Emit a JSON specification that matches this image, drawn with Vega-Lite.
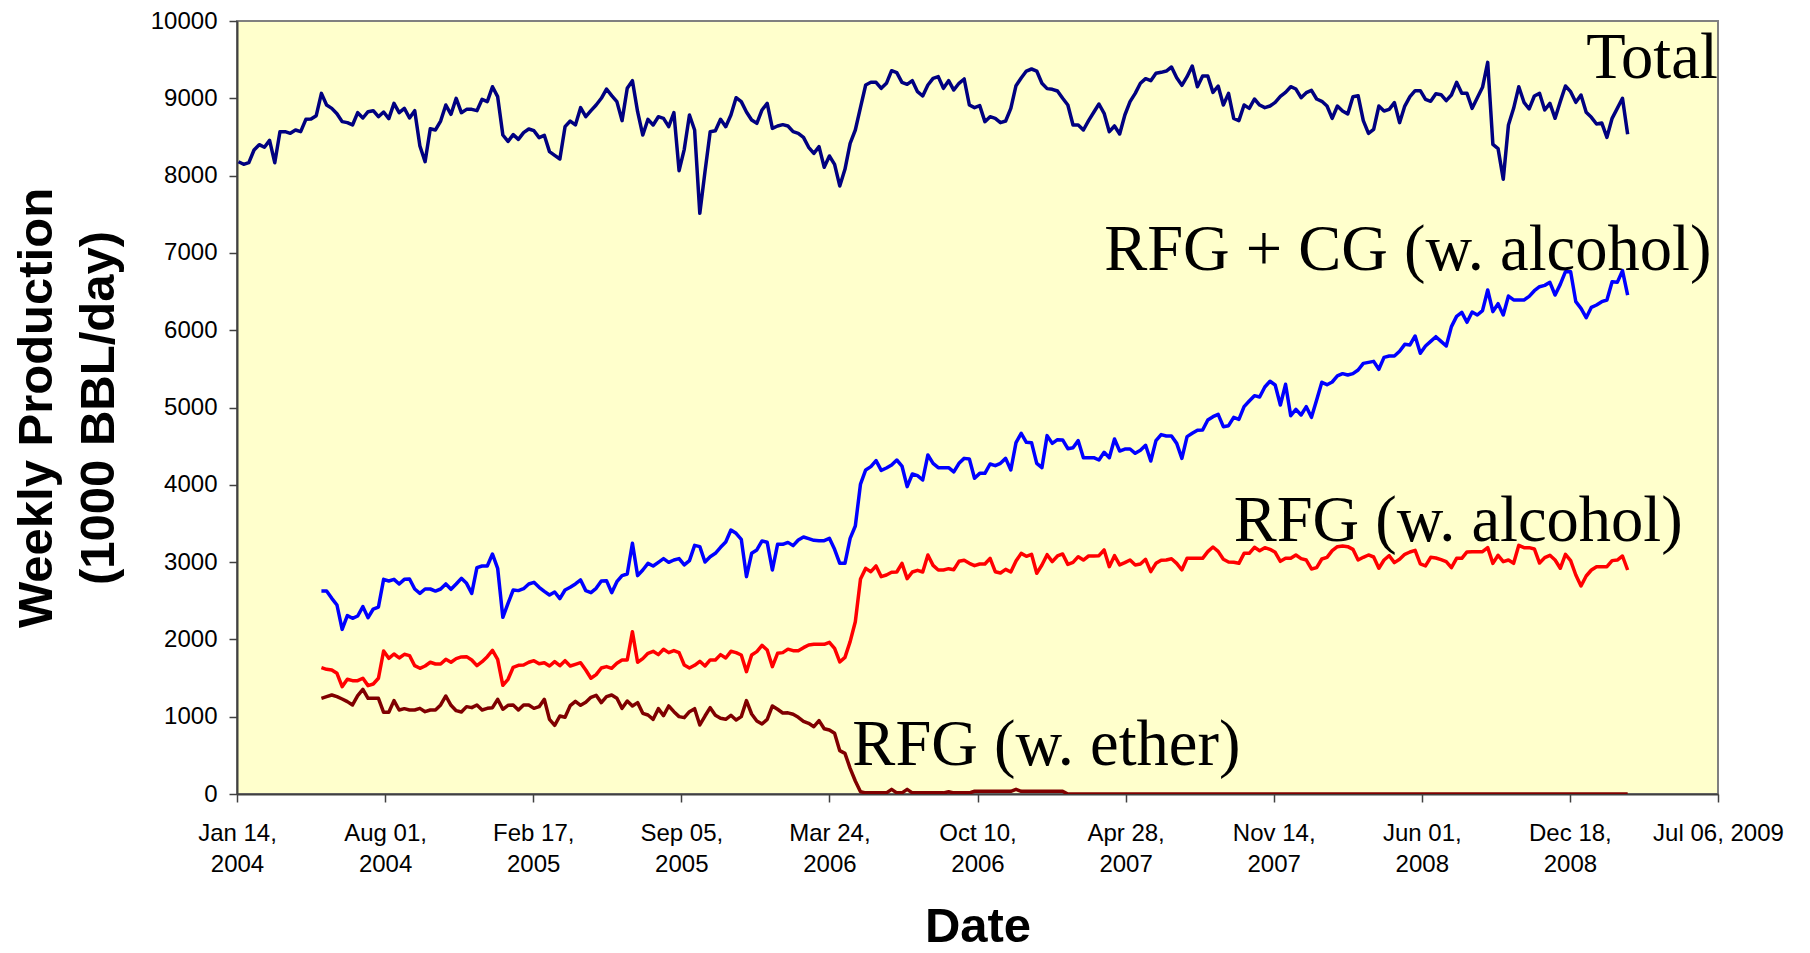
{
  "$schema": "https://vega.github.io/schema/vega-lite/v6.json",
  "autosize": {"type": "none"},
  "padding": {"left": 237, "top": 21, "right": 92, "bottom": 159},
  "width": 1481,
  "height": 773,
  "background": "#ffffff",
  "config": {
    "view": {"fill": "#FFFFCC", "stroke": "#808080", "strokeWidth": 2},
    "axis": {
      "grid": false,
      "domainColor": "#404040",
      "domainWidth": 2,
      "tickColor": "#404040",
      "tickWidth": 1.5,
      "tickSize": 8,
      "labelFont": "Liberation Sans",
      "labelFontSize": 24,
      "labelColor": "#000000",
      "titleFont": "Liberation Sans",
      "titleFontWeight": "bold",
      "titleFontSize": 49,
      "titleColor": "#000000"
    }
  },
  "datasets": {
    "weekly": [
      {"d":"2004-01-16","total":8180},
      {"d":"2004-01-23","total":8146},
      {"d":"2004-01-30","total":8167},
      {"d":"2004-02-06","total":8331},
      {"d":"2004-02-13","total":8400},
      {"d":"2004-02-20","total":8366},
      {"d":"2004-02-27","total":8456},
      {"d":"2004-03-05","total":8167},
      {"d":"2004-03-12","total":8568},
      {"d":"2004-03-19","total":8568},
      {"d":"2004-03-26","total":8547},
      {"d":"2004-04-02","total":8590},
      {"d":"2004-04-09","total":8568},
      {"d":"2004-04-16","total":8728},
      {"d":"2004-04-23","total":8732},
      {"d":"2004-04-30","total":8775},
      {"d":"2004-05-07","total":9064,"rfgcg":2626,"rfgalc":1635,"rfgeth":1238},
      {"d":"2004-05-14","total":8913,"rfgcg":2626,"rfgalc":1613,"rfgeth":1259},
      {"d":"2004-05-21","total":8870,"rfgcg":2531,"rfgalc":1604,"rfgeth":1281},
      {"d":"2004-05-28","total":8801,"rfgcg":2445,"rfgalc":1561,"rfgeth":1259},
      {"d":"2004-06-04","total":8698,"rfgcg":2130,"rfgalc":1389,"rfgeth":1229},
      {"d":"2004-06-11","total":8685,"rfgcg":2307,"rfgalc":1484,"rfgeth":1195},
      {"d":"2004-06-18","total":8655,"rfgcg":2273,"rfgalc":1466,"rfgeth":1152},
      {"d":"2004-06-25","total":8814,"rfgcg":2303,"rfgalc":1466,"rfgeth":1272},
      {"d":"2004-07-02","total":8745,"rfgcg":2424,"rfgalc":1497,"rfgeth":1354},
      {"d":"2004-07-09","total":8827,"rfgcg":2281,"rfgalc":1402,"rfgeth":1238},
      {"d":"2004-07-16","total":8840,"rfgcg":2393,"rfgalc":1423,"rfgeth":1238},
      {"d":"2004-07-23","total":8762,"rfgcg":2419,"rfgalc":1497,"rfgeth":1238},
      {"d":"2004-07-30","total":8823,"rfgcg":2777,"rfgalc":1850,"rfgeth":1057},
      {"d":"2004-08-06","total":8737,"rfgcg":2756,"rfgalc":1755,"rfgeth":1057},
      {"d":"2004-08-13","total":8935,"rfgcg":2777,"rfgalc":1811,"rfgeth":1208},
      {"d":"2004-08-20","total":8814,"rfgcg":2717,"rfgalc":1760,"rfgeth":1087},
      {"d":"2004-08-27","total":8870,"rfgcg":2777,"rfgalc":1807,"rfgeth":1104},
      {"d":"2004-09-03","total":8745,"rfgcg":2782,"rfgalc":1790,"rfgeth":1087},
      {"d":"2004-09-10","total":8840,"rfgcg":2652,"rfgalc":1660,"rfgeth":1087},
      {"d":"2004-09-17","total":8383,"rfgcg":2596,"rfgalc":1626,"rfgeth":1108},
      {"d":"2004-09-24","total":8180,"rfgcg":2652,"rfgalc":1656,"rfgeth":1065},
      {"d":"2004-10-01","total":8607,"rfgcg":2652,"rfgalc":1704,"rfgeth":1087},
      {"d":"2004-10-08","total":8590,"rfgcg":2626,"rfgalc":1682,"rfgeth":1087},
      {"d":"2004-10-15","total":8706,"rfgcg":2652,"rfgalc":1682,"rfgeth":1152},
      {"d":"2004-10-22","total":8913,"rfgcg":2717,"rfgalc":1742,"rfgeth":1268},
      {"d":"2004-10-29","total":8793,"rfgcg":2648,"rfgalc":1704,"rfgeth":1147},
      {"d":"2004-11-05","total":9000,"rfgcg":2717,"rfgalc":1751,"rfgeth":1078},
      {"d":"2004-11-12","total":8814,"rfgcg":2790,"rfgalc":1773,"rfgeth":1061},
      {"d":"2004-11-19","total":8857,"rfgcg":2725,"rfgalc":1777,"rfgeth":1130},
      {"d":"2004-11-26","total":8857,"rfgcg":2596,"rfgalc":1734,"rfgeth":1117},
      {"d":"2004-12-03","total":8840,"rfgcg":2928,"rfgalc":1660,"rfgeth":1152},
      {"d":"2004-12-10","total":8987,"rfgcg":2950,"rfgalc":1712,"rfgeth":1087},
      {"d":"2004-12-17","total":8957,"rfgcg":2950,"rfgalc":1777,"rfgeth":1108},
      {"d":"2004-12-24","total":9150,"rfgcg":3105,"rfgalc":1859,"rfgeth":1117},
      {"d":"2004-12-31","total":9021,"rfgcg":2920,"rfgalc":1742,"rfgeth":1225},
      {"d":"2005-01-07","total":8525,"rfgcg":2286,"rfgalc":1406,"rfgeth":1096},
      {"d":"2005-01-14","total":8443,"rfgcg":2467,"rfgalc":1484,"rfgeth":1147},
      {"d":"2005-01-21","total":8530,"rfgcg":2639,"rfgalc":1639,"rfgeth":1152},
      {"d":"2005-01-28","total":8469,"rfgcg":2631,"rfgalc":1665,"rfgeth":1087},
      {"d":"2005-02-04","total":8556,"rfgcg":2656,"rfgalc":1669,"rfgeth":1152},
      {"d":"2005-02-11","total":8603,"rfgcg":2717,"rfgalc":1704,"rfgeth":1152},
      {"d":"2005-02-18","total":8581,"rfgcg":2738,"rfgalc":1725,"rfgeth":1108},
      {"d":"2005-02-25","total":8491,"rfgcg":2674,"rfgalc":1686,"rfgeth":1130},
      {"d":"2005-03-04","total":8521,"rfgcg":2622,"rfgalc":1699,"rfgeth":1225},
      {"d":"2005-03-11","total":8310,"rfgcg":2575,"rfgalc":1656,"rfgeth":966},
      {"d":"2005-03-18","total":8262,"rfgcg":2613,"rfgalc":1712,"rfgeth":889},
      {"d":"2005-03-25","total":8215,"rfgcg":2527,"rfgalc":1660,"rfgeth":1009},
      {"d":"2005-04-01","total":8633,"rfgcg":2639,"rfgalc":1725,"rfgeth":992},
      {"d":"2005-04-08","total":8706,"rfgcg":2674,"rfgalc":1656,"rfgeth":1143},
      {"d":"2005-04-15","total":8655,"rfgcg":2717,"rfgalc":1678,"rfgeth":1199},
      {"d":"2005-04-22","total":8879,"rfgcg":2769,"rfgalc":1699,"rfgeth":1147},
      {"d":"2005-04-29","total":8762,"rfgcg":2631,"rfgalc":1604,"rfgeth":1186},
      {"d":"2005-05-06","total":8840,"rfgcg":2605,"rfgalc":1497,"rfgeth":1251},
      {"d":"2005-05-13","total":8913,"rfgcg":2661,"rfgalc":1544,"rfgeth":1277},
      {"d":"2005-05-20","total":9000,"rfgcg":2756,"rfgalc":1630,"rfgeth":1182},
      {"d":"2005-05-27","total":9120,"rfgcg":2760,"rfgalc":1648,"rfgeth":1259},
      {"d":"2005-06-03","total":9034,"rfgcg":2605,"rfgalc":1626,"rfgeth":1281},
      {"d":"2005-06-10","total":8957,"rfgcg":2747,"rfgalc":1691,"rfgeth":1238},
      {"d":"2005-06-17","total":8711,"rfgcg":2825,"rfgalc":1734,"rfgeth":1108},
      {"d":"2005-06-24","total":9129,"rfgcg":2846,"rfgalc":1734,"rfgeth":1203},
      {"d":"2005-07-01","total":9228,"rfgcg":3243,"rfgalc":2100,"rfgeth":1139},
      {"d":"2005-07-08","total":8827,"rfgcg":2825,"rfgalc":1704,"rfgeth":1182},
      {"d":"2005-07-15","total":8525,"rfgcg":2898,"rfgalc":1751,"rfgeth":1044},
      {"d":"2005-07-22","total":8728,"rfgcg":2984,"rfgalc":1820,"rfgeth":1022},
      {"d":"2005-07-29","total":8655,"rfgcg":2950,"rfgalc":1846,"rfgeth":966},
      {"d":"2005-08-05","total":8762,"rfgcg":2997,"rfgalc":1803,"rfgeth":1104},
      {"d":"2005-08-12","total":8741,"rfgcg":3045,"rfgalc":1872,"rfgeth":1014},
      {"d":"2005-08-19","total":8633,"rfgcg":2997,"rfgalc":1829,"rfgeth":1139},
      {"d":"2005-08-26","total":8814,"rfgcg":3027,"rfgalc":1855,"rfgeth":1065},
      {"d":"2005-09-02","total":8064,"rfgcg":3045,"rfgalc":1829,"rfgeth":1001},
      {"d":"2005-09-09","total":8340,"rfgcg":2963,"rfgalc":1669,"rfgeth":988},
      {"d":"2005-09-16","total":8784,"rfgcg":3019,"rfgalc":1630,"rfgeth":1065},
      {"d":"2005-09-23","total":8590,"rfgcg":3217,"rfgalc":1665,"rfgeth":1104},
      {"d":"2005-09-30","total":7512,"rfgcg":3200,"rfgalc":1717,"rfgeth":893},
      {"d":"2005-10-07","total":8051,"rfgcg":3001,"rfgalc":1656,"rfgeth":1009},
      {"d":"2005-10-14","total":8568,"rfgcg":3070,"rfgalc":1734,"rfgeth":1117},
      {"d":"2005-10-21","total":8581,"rfgcg":3114,"rfgalc":1734,"rfgeth":1018},
      {"d":"2005-10-28","total":8728,"rfgcg":3191,"rfgalc":1803,"rfgeth":979},
      {"d":"2005-11-04","total":8633,"rfgcg":3260,"rfgalc":1760,"rfgeth":966},
      {"d":"2005-11-11","total":8784,"rfgcg":3415,"rfgalc":1846,"rfgeth":1018},
      {"d":"2005-11-18","total":9008,"rfgcg":3372,"rfgalc":1829,"rfgeth":957},
      {"d":"2005-11-25","total":8957,"rfgcg":3295,"rfgalc":1798,"rfgeth":1001},
      {"d":"2005-12-02","total":8823,"rfgcg":2812,"rfgalc":1583,"rfgeth":1208},
      {"d":"2005-12-09","total":8719,"rfgcg":3114,"rfgalc":1798,"rfgeth":1035},
      {"d":"2005-12-16","total":8676,"rfgcg":3157,"rfgalc":1842,"rfgeth":945},
      {"d":"2005-12-23","total":8849,"rfgcg":3273,"rfgalc":1923,"rfgeth":906},
      {"d":"2005-12-30","total":8935,"rfgcg":3256,"rfgalc":1863,"rfgeth":966},
      {"d":"2006-01-06","total":8611,"rfgcg":2898,"rfgalc":1648,"rfgeth":1139},
      {"d":"2006-01-13","total":8642,"rfgcg":3230,"rfgalc":1820,"rfgeth":1096},
      {"d":"2006-01-20","total":8659,"rfgcg":3230,"rfgalc":1829,"rfgeth":1048},
      {"d":"2006-01-27","total":8642,"rfgcg":3255,"rfgalc":1874,"rfgeth":1050},
      {"d":"2006-02-03","total":8568,"rfgcg":3213,"rfgalc":1854,"rfgeth":1031},
      {"d":"2006-02-10","total":8547,"rfgcg":3286,"rfgalc":1854,"rfgeth":992},
      {"d":"2006-02-17","total":8495,"rfgcg":3325,"rfgalc":1893,"rfgeth":940},
      {"d":"2006-02-24","total":8366,"rfgcg":3303,"rfgalc":1928,"rfgeth":914},
      {"d":"2006-03-03","total":8288,"rfgcg":3282,"rfgalc":1936,"rfgeth":871},
      {"d":"2006-03-10","total":8374,"rfgcg":3277,"rfgalc":1936,"rfgeth":949},
      {"d":"2006-03-17","total":8107,"rfgcg":3277,"rfgalc":1936,"rfgeth":845},
      {"d":"2006-03-24","total":8254,"rfgcg":3307,"rfgalc":1962,"rfgeth":828},
      {"d":"2006-03-31","total":8146,"rfgcg":3165,"rfgalc":1885,"rfgeth":785},
      {"d":"2006-04-07","total":7866,"rfgcg":2984,"rfgalc":1708,"rfgeth":561},
      {"d":"2006-04-14","total":8081,"rfgcg":2984,"rfgalc":1768,"rfgeth":526},
      {"d":"2006-04-21","total":8418,"rfgcg":3307,"rfgalc":1971,"rfgeth":332},
      {"d":"2006-04-28","total":8590,"rfgcg":3467,"rfgalc":2229,"rfgeth":168},
      {"d":"2006-05-05","total":8883,"rfgcg":4010,"rfgalc":2781,"rfgeth":30},
      {"d":"2006-05-12","total":9172,"rfgcg":4192,"rfgalc":2919,"rfgeth":15},
      {"d":"2006-05-19","total":9207,"rfgcg":4235,"rfgalc":2876,"rfgeth":15},
      {"d":"2006-05-26","total":9207,"rfgcg":4312,"rfgalc":2950,"rfgeth":15},
      {"d":"2006-06-02","total":9129,"rfgcg":4187,"rfgalc":2812,"rfgeth":15},
      {"d":"2006-06-09","total":9194,"rfgcg":4217,"rfgalc":2833,"rfgeth":15},
      {"d":"2006-06-16","total":9357,"rfgcg":4256,"rfgalc":2868,"rfgeth":60},
      {"d":"2006-06-23","total":9332,"rfgcg":4321,"rfgalc":2872,"rfgeth":15},
      {"d":"2006-06-30","total":9207,"rfgcg":4243,"rfgalc":2984,"rfgeth":15},
      {"d":"2006-07-07","total":9181,"rfgcg":3976,"rfgalc":2786,"rfgeth":60},
      {"d":"2006-07-14","total":9228,"rfgcg":4140,"rfgalc":2872,"rfgeth":15},
      {"d":"2006-07-21","total":9086,"rfgcg":4118,"rfgalc":2894,"rfgeth":15},
      {"d":"2006-07-28","total":9030,"rfgcg":4062,"rfgalc":2872,"rfgeth":15},
      {"d":"2006-08-04","total":9172,"rfgcg":4386,"rfgalc":3092,"rfgeth":15},
      {"d":"2006-08-11","total":9258,"rfgcg":4278,"rfgalc":2958,"rfgeth":15},
      {"d":"2006-08-18","total":9280,"rfgcg":4222,"rfgalc":2898,"rfgeth":15},
      {"d":"2006-08-25","total":9129,"rfgcg":4222,"rfgalc":2898,"rfgeth":15},
      {"d":"2006-09-01","total":9228,"rfgcg":4222,"rfgalc":2915,"rfgeth":30},
      {"d":"2006-09-08","total":9107,"rfgcg":4166,"rfgalc":2902,"rfgeth":15},
      {"d":"2006-09-15","total":9194,"rfgcg":4278,"rfgalc":3010,"rfgeth":15},
      {"d":"2006-09-22","total":9250,"rfgcg":4342,"rfgalc":3023,"rfgeth":15},
      {"d":"2006-09-29","total":8913,"rfgcg":4334,"rfgalc":2984,"rfgeth":15},
      {"d":"2006-10-06","total":8879,"rfgcg":4084,"rfgalc":2954,"rfgeth":35},
      {"d":"2006-10-13","total":8905,"rfgcg":4148,"rfgalc":2975,"rfgeth":35},
      {"d":"2006-10-20","total":8698,"rfgcg":4148,"rfgalc":2975,"rfgeth":35},
      {"d":"2006-10-27","total":8762,"rfgcg":4269,"rfgalc":3049,"rfgeth":35},
      {"d":"2006-11-03","total":8741,"rfgcg":4248,"rfgalc":2876,"rfgeth":35},
      {"d":"2006-11-10","total":8685,"rfgcg":4278,"rfgalc":2859,"rfgeth":35},
      {"d":"2006-11-17","total":8706,"rfgcg":4342,"rfgalc":2906,"rfgeth":35},
      {"d":"2006-11-24","total":8870,"rfgcg":4192,"rfgalc":2872,"rfgeth":35},
      {"d":"2006-12-01","total":9163,"rfgcg":4545,"rfgalc":3014,"rfgeth":60},
      {"d":"2006-12-08","total":9263,"rfgcg":4666,"rfgalc":3113,"rfgeth":35},
      {"d":"2006-12-15","total":9353,"rfgcg":4549,"rfgalc":3075,"rfgeth":35},
      {"d":"2006-12-22","total":9379,"rfgcg":4545,"rfgalc":3101,"rfgeth":35},
      {"d":"2006-12-29","total":9353,"rfgcg":4278,"rfgalc":2855,"rfgeth":35},
      {"d":"2007-01-05","total":9194,"rfgcg":4222,"rfgalc":2963,"rfgeth":35},
      {"d":"2007-01-12","total":9125,"rfgcg":4636,"rfgalc":3096,"rfgeth":35},
      {"d":"2007-01-19","total":9116,"rfgcg":4536,"rfgalc":3006,"rfgeth":35},
      {"d":"2007-01-26","total":9094,"rfgcg":4584,"rfgalc":3079,"rfgeth":35},
      {"d":"2007-02-02","total":9000,"rfgcg":4580,"rfgalc":3105,"rfgeth":35},
      {"d":"2007-02-09","total":8913,"rfgcg":4467,"rfgalc":2971,"rfgeth":0},
      {"d":"2007-02-16","total":8655,"rfgcg":4480,"rfgalc":2997,"rfgeth":0},
      {"d":"2007-02-23","total":8655,"rfgcg":4571,"rfgalc":3070,"rfgeth":0},
      {"d":"2007-03-02","total":8590,"rfgcg":4351,"rfgalc":3027,"rfgeth":0},
      {"d":"2007-03-09","total":8711,"rfgcg":4351,"rfgalc":3079,"rfgeth":0},
      {"d":"2007-03-16","total":8819,"rfgcg":4351,"rfgalc":3079,"rfgeth":0},
      {"d":"2007-03-23","total":8926,"rfgcg":4321,"rfgalc":3083,"rfgeth":0},
      {"d":"2007-03-30","total":8806,"rfgcg":4420,"rfgalc":3157,"rfgeth":0},
      {"d":"2007-04-06","total":8568,"rfgcg":4351,"rfgalc":2941,"rfgeth":0},
      {"d":"2007-04-13","total":8642,"rfgcg":4592,"rfgalc":3083,"rfgeth":0},
      {"d":"2007-04-20","total":8538,"rfgcg":4437,"rfgalc":2963,"rfgeth":0},
      {"d":"2007-04-27","total":8784,"rfgcg":4463,"rfgalc":2993,"rfgeth":0},
      {"d":"2007-05-04","total":8957,"rfgcg":4463,"rfgalc":3027,"rfgeth":0},
      {"d":"2007-05-11","total":9064,"rfgcg":4407,"rfgalc":2963,"rfgeth":0},
      {"d":"2007-05-18","total":9194,"rfgcg":4446,"rfgalc":2975,"rfgeth":0},
      {"d":"2007-05-25","total":9254,"rfgcg":4511,"rfgalc":3036,"rfgeth":0},
      {"d":"2007-06-01","total":9228,"rfgcg":4308,"rfgalc":2876,"rfgeth":0},
      {"d":"2007-06-08","total":9323,"rfgcg":4571,"rfgalc":2984,"rfgeth":0},
      {"d":"2007-06-15","total":9336,"rfgcg":4649,"rfgalc":3023,"rfgeth":0},
      {"d":"2007-06-22","total":9353,"rfgcg":4631,"rfgalc":3027,"rfgeth":0},
      {"d":"2007-06-29","total":9405,"rfgcg":4631,"rfgalc":3044,"rfgeth":0},
      {"d":"2007-07-06","total":9265,"rfgcg":4536,"rfgalc":2984,"rfgeth":0},
      {"d":"2007-07-13","total":9168,"rfgcg":4342,"rfgalc":2898,"rfgeth":0},
      {"d":"2007-07-20","total":9280,"rfgcg":4623,"rfgalc":3049,"rfgeth":0},
      {"d":"2007-07-27","total":9418,"rfgcg":4666,"rfgalc":3049,"rfgeth":0},
      {"d":"2007-08-03","total":9150,"rfgcg":4705,"rfgalc":3049,"rfgeth":0},
      {"d":"2007-08-10","total":9288,"rfgcg":4709,"rfgalc":3049,"rfgeth":0},
      {"d":"2007-08-17","total":9288,"rfgcg":4838,"rfgalc":3135,"rfgeth":0},
      {"d":"2007-08-24","total":9077,"rfgcg":4881,"rfgalc":3195,"rfgeth":0},
      {"d":"2007-08-31","total":9159,"rfgcg":4912,"rfgalc":3139,"rfgeth":0},
      {"d":"2007-09-07","total":8913,"rfgcg":4752,"rfgalc":3036,"rfgeth":0},
      {"d":"2007-09-14","total":9064,"rfgcg":4765,"rfgalc":3001,"rfgeth":0},
      {"d":"2007-09-21","total":8741,"rfgcg":4873,"rfgalc":2997,"rfgeth":0},
      {"d":"2007-09-28","total":8711,"rfgcg":4847,"rfgalc":2984,"rfgeth":0},
      {"d":"2007-10-05","total":8913,"rfgcg":5011,"rfgalc":3113,"rfgeth":0},
      {"d":"2007-10-12","total":8870,"rfgcg":5084,"rfgalc":3113,"rfgeth":0},
      {"d":"2007-10-19","total":8991,"rfgcg":5153,"rfgalc":3191,"rfgeth":0},
      {"d":"2007-10-26","total":8913,"rfgcg":5136,"rfgalc":3148,"rfgeth":0},
      {"d":"2007-11-02","total":8879,"rfgcg":5265,"rfgalc":3187,"rfgeth":0},
      {"d":"2007-11-09","total":8900,"rfgcg":5339,"rfgalc":3165,"rfgeth":0},
      {"d":"2007-11-16","total":8948,"rfgcg":5291,"rfgalc":3127,"rfgeth":0},
      {"d":"2007-11-23","total":9025,"rfgcg":5032,"rfgalc":3010,"rfgeth":0},
      {"d":"2007-11-30","total":9077,"rfgcg":5300,"rfgalc":3049,"rfgeth":0},
      {"d":"2007-12-07","total":9150,"rfgcg":4894,"rfgalc":3049,"rfgeth":0},
      {"d":"2007-12-14","total":9120,"rfgcg":4976,"rfgalc":3092,"rfgeth":0},
      {"d":"2007-12-21","total":9008,"rfgcg":4903,"rfgalc":3045,"rfgeth":0},
      {"d":"2007-12-28","total":9073,"rfgcg":5011,"rfgalc":3027,"rfgeth":0},
      {"d":"2008-01-04","total":9103,"rfgcg":4873,"rfgalc":2911,"rfgeth":0},
      {"d":"2008-01-11","total":8991,"rfgcg":5097,"rfgalc":2928,"rfgeth":0},
      {"d":"2008-01-18","total":8961,"rfgcg":5326,"rfgalc":3040,"rfgeth":0},
      {"d":"2008-01-25","total":8900,"rfgcg":5295,"rfgalc":3062,"rfgeth":0},
      {"d":"2008-02-01","total":8741,"rfgcg":5330,"rfgalc":3148,"rfgeth":0},
      {"d":"2008-02-08","total":8900,"rfgcg":5408,"rfgalc":3200,"rfgeth":0},
      {"d":"2008-02-15","total":8836,"rfgcg":5438,"rfgalc":3208,"rfgeth":0},
      {"d":"2008-02-22","total":8797,"rfgcg":5420,"rfgalc":3200,"rfgeth":0},
      {"d":"2008-02-29","total":9021,"rfgcg":5438,"rfgalc":3165,"rfgeth":0},
      {"d":"2008-03-07","total":9034,"rfgcg":5485,"rfgalc":3027,"rfgeth":0},
      {"d":"2008-03-14","total":8711,"rfgcg":5571,"rfgalc":3062,"rfgeth":0},
      {"d":"2008-03-21","total":8547,"rfgcg":5584,"rfgalc":3092,"rfgeth":0},
      {"d":"2008-03-28","total":8599,"rfgcg":5597,"rfgalc":3066,"rfgeth":0},
      {"d":"2008-04-04","total":8900,"rfgcg":5494,"rfgalc":2920,"rfgeth":0},
      {"d":"2008-04-11","total":8836,"rfgcg":5649,"rfgalc":3027,"rfgeth":0},
      {"d":"2008-04-18","total":8857,"rfgcg":5666,"rfgalc":3083,"rfgeth":0},
      {"d":"2008-04-25","total":8944,"rfgcg":5666,"rfgalc":2993,"rfgeth":0},
      {"d":"2008-05-02","total":8685,"rfgcg":5727,"rfgalc":3036,"rfgeth":0},
      {"d":"2008-05-09","total":8900,"rfgcg":5817,"rfgalc":3101,"rfgeth":0},
      {"d":"2008-05-16","total":9021,"rfgcg":5809,"rfgalc":3131,"rfgeth":0},
      {"d":"2008-05-23","total":9099,"rfgcg":5925,"rfgalc":3152,"rfgeth":0},
      {"d":"2008-05-30","total":9099,"rfgcg":5701,"rfgalc":2976,"rfgeth":0},
      {"d":"2008-06-06","total":8987,"rfgcg":5796,"rfgalc":2950,"rfgeth":0},
      {"d":"2008-06-13","total":8961,"rfgcg":5856,"rfgalc":3062,"rfgeth":0},
      {"d":"2008-06-20","total":9060,"rfgcg":5916,"rfgalc":3053,"rfgeth":0},
      {"d":"2008-06-27","total":9047,"rfgcg":5856,"rfgalc":3032,"rfgeth":0},
      {"d":"2008-07-04","total":8969,"rfgcg":5796,"rfgalc":3006,"rfgeth":0},
      {"d":"2008-07-11","total":9043,"rfgcg":6046,"rfgalc":2928,"rfgeth":0},
      {"d":"2008-07-18","total":9207,"rfgcg":6179,"rfgalc":3049,"rfgeth":0},
      {"d":"2008-07-25","total":9064,"rfgcg":6231,"rfgalc":3049,"rfgeth":0},
      {"d":"2008-08-01","total":9064,"rfgcg":6102,"rfgalc":3131,"rfgeth":0},
      {"d":"2008-08-08","total":8870,"rfgcg":6235,"rfgalc":3135,"rfgeth":0},
      {"d":"2008-08-15","total":9008,"rfgcg":6197,"rfgalc":3135,"rfgeth":0},
      {"d":"2008-08-22","total":9142,"rfgcg":6253,"rfgalc":3135,"rfgeth":0},
      {"d":"2008-08-29","total":9465,"rfgcg":6520,"rfgalc":3187,"rfgeth":0},
      {"d":"2008-09-05","total":8404,"rfgcg":6240,"rfgalc":2984,"rfgeth":0},
      {"d":"2008-09-12","total":8349,"rfgcg":6343,"rfgalc":3088,"rfgeth":0},
      {"d":"2008-09-19","total":7952,"rfgcg":6197,"rfgalc":3006,"rfgeth":0},
      {"d":"2008-09-26","total":8655,"rfgcg":6442,"rfgalc":3027,"rfgeth":0},
      {"d":"2008-10-03","total":8870,"rfgcg":6391,"rfgalc":2984,"rfgeth":0},
      {"d":"2008-10-10","total":9150,"rfgcg":6391,"rfgalc":3217,"rfgeth":0},
      {"d":"2008-10-17","total":8948,"rfgcg":6391,"rfgalc":3187,"rfgeth":0},
      {"d":"2008-10-24","total":8862,"rfgcg":6438,"rfgalc":3187,"rfgeth":0},
      {"d":"2008-10-31","total":9030,"rfgcg":6511,"rfgalc":3170,"rfgeth":0},
      {"d":"2008-11-07","total":9064,"rfgcg":6563,"rfgalc":2988,"rfgeth":0},
      {"d":"2008-11-14","total":8849,"rfgcg":6580,"rfgalc":3058,"rfgeth":0},
      {"d":"2008-11-21","total":8935,"rfgcg":6619,"rfgalc":3088,"rfgeth":0},
      {"d":"2008-11-28","total":8741,"rfgcg":6455,"rfgalc":3027,"rfgeth":0},
      {"d":"2008-12-05","total":8957,"rfgcg":6593,"rfgalc":2920,"rfgeth":0},
      {"d":"2008-12-12","total":9159,"rfgcg":6757,"rfgalc":3101,"rfgeth":0},
      {"d":"2008-12-19","total":9086,"rfgcg":6757,"rfgalc":3019,"rfgeth":0},
      {"d":"2008-12-26","total":8948,"rfgcg":6369,"rfgalc":2833,"rfgeth":0},
      {"d":"2009-01-02","total":9043,"rfgcg":6283,"rfgalc":2691,"rfgeth":0},
      {"d":"2009-01-09","total":8819,"rfgcg":6162,"rfgalc":2820,"rfgeth":0},
      {"d":"2009-01-16","total":8754,"rfgcg":6296,"rfgalc":2898,"rfgeth":0},
      {"d":"2009-01-23","total":8668,"rfgcg":6326,"rfgalc":2941,"rfgeth":0},
      {"d":"2009-01-30","total":8681,"rfgcg":6369,"rfgalc":2941,"rfgeth":0},
      {"d":"2009-02-06","total":8495,"rfgcg":6391,"rfgalc":2941,"rfgeth":0},
      {"d":"2009-02-13","total":8741,"rfgcg":6628,"rfgalc":3019,"rfgeth":0},
      {"d":"2009-02-20","total":8870,"rfgcg":6619,"rfgalc":3027,"rfgeth":0},
      {"d":"2009-02-27","total":9000,"rfgcg":6770,"rfgalc":3079,"rfgeth":0},
      {"d":"2009-03-06","total":8534,"rfgcg":6455,"rfgalc":2898,"rfgeth":0}
    ],
    "labels": [
      {"d":"2009-01-09","value":9259,"label":"Total"},
      {"d":"2007-03-30","value":6779,"label":"RFG + CG (w. alcohol)"},
      {"d":"2007-09-21","value":3273,"label":"RFG (w. alcohol)"},
      {"d":"2006-04-24","value":375,"label":"RFG (w. ether)"}
    ]
  },
  "encoding": {
    "x": {
      "field": "d",
      "type": "temporal",
      "scale": {
        "type": "utc",
        "nice": false,
        "domain": [
          {"year": 2004, "month": 1, "date": 14, "utc": true},
          {"year": 2009, "month": 7, "date": 6, "utc": true}
        ]
      },
      "axis": {
        "title": "Date",
        "values": [
          {"year": 2004, "month": 1, "date": 14, "utc": true},
          {"year": 2004, "month": 8, "date": 1, "utc": true},
          {"year": 2005, "month": 2, "date": 17, "utc": true},
          {"year": 2005, "month": 9, "date": 5, "utc": true},
          {"year": 2006, "month": 3, "date": 24, "utc": true},
          {"year": 2006, "month": 10, "date": 10, "utc": true},
          {"year": 2007, "month": 4, "date": 28, "utc": true},
          {"year": 2007, "month": 11, "date": 14, "utc": true},
          {"year": 2008, "month": 6, "date": 1, "utc": true},
          {"year": 2008, "month": 12, "date": 18, "utc": true},
          {"year": 2009, "month": 7, "date": 6, "utc": true}
        ],
        "labelExpr": "utcmonth(datum.value) == 6 ? utcFormat(datum.value, '%b %d, %Y') : [utcFormat(datum.value, '%b %d,'), utcFormat(datum.value, '%Y')]",
        "labelAlign": "center",
        "labelBaseline": "top",
        "labelPadding": 19,
        "labelLineHeight": 31,
        "labelOverlap": false,
        "labelFlush": false,
        "labelBound": false,
        "titleY": 147,
        "titleBaseline": "alphabetic"
      }
    },
    "y": {
      "field": "value",
      "type": "quantitative",
      "scale": {"domain": [0, 10000], "nice": false},
      "axis": {
        "title": ["Weekly Production", "(1000 BBL/day)"],
        "values": [0, 1000, 2000, 3000, 4000, 5000, 6000, 7000, 8000, 9000, 10000],
        "format": "d",
        "labelPadding": 12,
        "titleAngle": -90,
        "titleAlign": "center",
        "titleBaseline": "alphabetic",
        "titleX": -186,
        "titleY": 386.5,
        "titleLineHeight": 62
      }
    }
  },
  "layer": [
    {
      "data": {"name": "weekly"},
      "transform": [
        {"fold": ["total", "rfgcg", "rfgalc", "rfgeth"], "as": ["series", "value"]},
        {"filter": "isValid(datum.value)"}
      ],
      "mark": {"type": "line", "strokeWidth": 3.5, "strokeJoin": "round", "clip": true},
      "encoding": {
        "color": {
          "field": "series",
          "type": "nominal",
          "scale": {
            "domain": ["total", "rfgcg", "rfgalc", "rfgeth"],
            "range": ["#000080", "#0000FF", "#FF0000", "#800000"]
          },
          "legend": null
        }
      }
    },
    {
      "data": {"name": "labels"},
      "mark": {
        "type": "text",
        "font": "Liberation Serif",
        "fontSize": 64.5,
        "align": "left",
        "baseline": "alphabetic",
        "color": "#000000",
        "clip": true
      },
      "encoding": {
        "text": {"field": "label", "type": "nominal"}
      }
    }
  ]
}
